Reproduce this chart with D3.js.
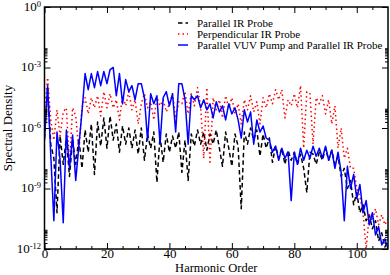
<!DOCTYPE html>
<html>
<head>
<meta charset="utf-8">
<script src="https://cdnjs.cloudflare.com/ajax/libs/d3/7.8.5/d3.min.js"></script>
<style>
    html, body { margin: 0; padding: 0; background: #fff; }
    svg { display: block; }
    svg text { font-family: "Liberation Serif", "DejaVu Serif", serif; fill: #000; }
</style>
</head>
<body>
<div id="graph"></div>
<script>
/* harmonic orders sampled in the spectrum */
var harmonicOrder = [0,1,2,3,4,5,6,7,8,9,10,11,12,13,14,15,16,17,18,19,20,21,22,23,24,25,26,27,28,29,
    30,31,32,33,34,35,36,37,38,39,40,41,42,43,44,45,46,47,48,49,50,51,52,53,54,55,56,57,58,59,
    60,61,62,63,64,65,66,67,68,69,70,71,72,73,74,75,76,77,78,79,80,81,82,83,84,85,86,87,88,89,
    90,91,92,93,94,95,96,97,98,99,100,101,102,103,104,105,106,107,108,109,110];

/* log10 of the spectral density */
var parallelIR = [-6.5,-4.0,-6.8,-7.5,-10.2,-6.4,-7.8,-6.5,-8.4,-6.6,
    -7.8,-6.5,-8.0,-6.1,-7.2,-5.8,-8.3,-5.7,-6.9,-5.5,
    -7.0,-5.4,-6.6,-5.8,-7.2,-5.9,-6.8,-6.0,-7.0,-6.1,
    -7.3,-6.0,-7.6,-6.3,-7.0,-6.2,-8.7,-6.4,-7.7,-6.3,
    -7.2,-6.4,-7.0,-6.2,-8.2,-6.6,-8.6,-6.3,-6.9,-6.1,
    -6.8,-6.2,-7.1,-6.3,-6.8,-6.1,-7.0,-7.9,-6.2,-7.0,
    -7.9,-6.3,-6.9,-10.0,-6.2,-6.8,-6.0,-6.6,-6.1,-7.4,
    -6.3,-7.0,-6.5,-7.7,-6.9,-7.5,-7.0,-7.8,-7.1,-7.6,
    -7.2,-7.8,-7.3,-8.0,-9.2,-7.2,-7.3,-7.8,-7.2,-7.6,
    -7.0,-7.6,-7.1,-7.8,-7.4,-8.4,-8.0,-9.0,-8.6,-9.8,
    -9.2,-10.2,-9.8,-10.6,-10.3,-11.0,-10.6,-11.6,-11.2,-11.9,
    -11.6];

var perpendicularIR = [-5.2,-3.5,-5.6,-6.6,-5.1,-6.4,-5.2,-5.0,-7.9,-5.0,
    -5.4,-7.1,-5.0,-4.5,-5.3,-4.5,-5.0,-4.4,-5.4,-4.2,
    -5.0,-4.3,-5.0,-4.6,-5.6,-4.4,-4.9,-4.2,-5.1,-4.6,
    -5.8,-4.8,-4.3,-5.0,-4.7,-5.6,-4.5,-4.9,-4.6,-5.2,
    -4.8,-4.3,-5.5,-4.7,-4.8,-4.2,-5.3,-4.3,-4.9,-4.0,
    -4.9,-7.5,-4.0,-7.8,-4.5,-5.1,-4.6,-5.5,-4.4,-5.0,
    -4.5,-5.3,-4.8,-5.8,-4.6,-5.1,-4.4,-5.2,-4.7,-5.8,
    -4.5,-5.0,-4.3,-4.8,-4.1,-4.6,-4.1,-5.5,-4.6,-4.9,
    -4.3,-5.0,-3.9,-7.0,-4.2,-4.3,-6.8,-4.5,-4.8,-4.4,
    -5.3,-4.6,-5.8,-4.9,-7.0,-6.0,-7.5,-7.0,-8.0,-8.0,
    -9.0,-9.4,-10.2,-12.0,-10.3,-10.6,-10.0,-10.8,-10.3,-10.8,
    -10.5];

var vuvPumpParallelIR = [-6.6,-3.9,-7.3,-10.6,-6.2,-7.6,-10.7,-6.1,-8.0,-6.35,
    -8.6,-6.9,-5.2,-3.3,-4.1,-3.3,-4.0,-3.2,-3.9,-3.2,
    -3.8,-3.1,-3.0,-4.4,-3.3,-4.8,-3.6,-4.2,-3.9,-4.6,
    -3.8,-3.8,-4.5,-6.6,-4.3,-4.8,-4.4,-6.8,-4.5,-4.2,
    -4.9,-4.3,-6.2,-3.8,-3.8,-4.6,-6.8,-4.4,-4.6,-4.4,
    -5.0,-4.6,-5.1,-4.8,-5.5,-4.7,-5.2,-4.9,-5.6,-4.8,
    -5.3,-5.0,-5.6,-6.5,-5.1,-5.7,-5.2,-6.8,-5.6,-6.2,
    -5.9,-6.5,-6.6,-7.2,-6.9,-7.6,-7.0,-7.5,-7.2,-9.6,
    -7.2,-7.8,-7.0,-7.6,-7.1,-7.5,-6.9,-7.4,-7.0,-7.5,
    -6.9,-7.6,-7.1,-8.0,-7.2,-8.2,-10.6,-7.9,-9.0,-8.3,
    -9.5,-8.8,-10.2,-9.6,-10.8,-10.2,-11.3,-10.9,-11.8,-11.5,
    -12.0];

var seriesNames = ["Parallel IR Probe", "Perpendicular IR Probe", "Parallel VUV Pump and Parallel IR Probe"];
var xTickLabels = [0, 20, 40, 60, 80, 100];
var xMinorTicks = [5, 10, 15, 25, 30, 35, 45, 50, 55, 65, 70, 75, 85, 90, 95, 105];
var yTickExponents = [0, -3, -6, -9, -12];
var yMinorMultipliers = [2, 3, 4, 5, 6, 7, 8, 9];

window.onload = (function(){

    var WIDTH = 390, HEIGHT = 275;
    var box = {left: 44.5, right: 388, top: 7, bottom: 249};

    function __init__(){
        /**
         * Builds the graph.
         */
        var svg = d3.select("#graph").append("svg")
            .attr("width", WIDTH)
            .attr("height", HEIGHT)
            .attr("font-family", "Liberation Serif")
            .style("background-color", "#fff");

        var x = d3.scaleLinear().domain([0, 110]).range([box.left, box.right]);
        var y = d3.scaleLog().domain([1e-12, 1]).range([box.bottom, box.top]);

        svg.append("clipPath").attr("id", "plotclip")
            .append("rect")
            .attr("x", box.left).attr("y", box.top)
            .attr("width", box.right - box.left).attr("height", box.bottom - box.top);

        var styles = [
            {color: "#000000", dash: "4.5,3"},
            {color: "#ff0000", dash: "1.5,3"},
            {color: "#0000ff", dash: null}
        ];
        var allSeries = [parallelIR, perpendicularIR, vuvPumpParallelIR];

        var line = d3.line()
            .x(function(d){ return x(d[0]); })
            .y(function(d){ return y(Math.pow(10, d[1])); });

        var plot = svg.append("g").attr("clip-path", "url(#plotclip)");
        allSeries.forEach(function(vals, i){
            var pts = harmonicOrder.map(function(h, j){ return [h, vals[j]]; });
            plot.append("path")
                .datum(pts)
                .attr("d", line)
                .attr("fill", "none")
                .attr("stroke", styles[i].color)
                .attr("stroke-width", 1.5)
                .attr("stroke-dasharray", styles[i].dash)
                .attr("stroke-linejoin", "round");
        });

        drawAxes(svg, x, y);
        drawLegend(svg, styles);
    }


    function drawAxes(svg, x, y){
        /**
         * Draws the frame, the ticks on all four sides and the labels.
         */
        var yMinor = [];
        yTickExponents.forEach(function(e){
            yMinorMultipliers.forEach(function(m){
                if (m * Math.pow(10, e) < 1) yMinor.push(m * Math.pow(10, e));
            });
        });
        var yMajor = yTickExponents.map(function(e){ return Math.pow(10, e); });

        /* bottom */
        var gb = svg.append("g").attr("transform", "translate(0," + box.bottom + ")");
        gb.call(d3.axisBottom(x).tickValues(xMinorTicks).tickSizeInner(-3).tickSizeOuter(0).tickFormat(""));
        var gbm = svg.append("g").attr("transform", "translate(0," + box.bottom + ")");
        gbm.call(d3.axisBottom(x).tickValues(xTickLabels).tickSizeInner(-6).tickSizeOuter(0).tickPadding(0));
        gbm.selectAll("text").style("font-size", "13px");

        /* top */
        var gt = svg.append("g").attr("transform", "translate(0," + box.top + ")");
        gt.call(d3.axisTop(x).tickValues(xMinorTicks).tickSizeInner(-3).tickSizeOuter(0).tickFormat(""));
        gt.append("g").call(d3.axisTop(x).tickValues(xTickLabels).tickSizeInner(-6).tickSizeOuter(0).tickFormat(""));

        /* left */
        var gl = svg.append("g").attr("transform", "translate(" + box.left + ",0)");
        gl.call(d3.axisLeft(y).tickValues(yMinor).tickSizeInner(-3).tickSizeOuter(0).tickFormat(""));
        var glm = svg.append("g").attr("transform", "translate(" + box.left + ",0)");
        glm.call(d3.axisLeft(y).tickValues(yMajor).tickSizeInner(-6).tickSizeOuter(0).tickPadding(3.5));
        glm.selectAll(".tick text").each(function(d){
            var t = d3.select(this);
            var e = Math.round(Math.log10(d));
            t.text("").attr("dy", "0.32em");
            t.append("tspan").text("10").style("font-size", "13px");
            t.append("tspan").text(e === 0 ? "0" : "-" + Math.abs(e))
                .attr("dy", "-4").style("font-size", "8.5px");
        });

        /* right */
        var gr = svg.append("g").attr("transform", "translate(" + box.right + ",0)");
        gr.call(d3.axisRight(y).tickValues(yMinor).tickSizeInner(-3).tickSizeOuter(0).tickFormat(""));
        gr.append("g").call(d3.axisRight(y).tickValues(yMajor).tickSizeInner(-6).tickSizeOuter(0).tickFormat(""));

        svg.selectAll("g").attr("font-family", null);
        svg.selectAll(".domain").remove();
        svg.selectAll(".tick line").attr("stroke", "#000").attr("stroke-width", 1);

        svg.append("rect")
            .attr("x", box.left).attr("y", box.top)
            .attr("width", box.right - box.left).attr("height", box.bottom - box.top)
            .attr("fill", "none").attr("stroke", "#000").attr("stroke-width", 1.5);

        svg.append("text")
            .attr("x", (box.left + box.right) / 2).attr("y", 272.2)
            .attr("text-anchor", "middle")
            .style("font-size", "12.5px")
            .text("Harmonic Order");

        svg.append("text")
            .attr("transform", "translate(11.5," + ((box.top + box.bottom) / 2) + ") rotate(-90)")
            .attr("text-anchor", "middle")
            .style("font-size", "13px")
            .text("Spectral Density");
    }


    function drawLegend(svg, styles){
        /**
         * Draws the legend in the upper part of the plot.
         */
        var g = svg.append("g").attr("transform", "translate(178,23)");
        seriesNames.forEach(function(name, i){
            var row = g.append("g").attr("transform", "translate(0," + (i * 11) + ")");
            row.append("line")
                .attr("x1", 0).attr("x2", 10).attr("y1", 0).attr("y2", 0)
                .attr("stroke", styles[i].color)
                .attr("stroke-width", 1.5)
                .attr("stroke-dasharray", styles[i].dash);
            row.append("text")
                .attr("x", 19).attr("y", 3.5)
                .style("font-size", "11px")
                .text(name);
        });
    }


    __init__();
});
</script>
</body>
</html>
